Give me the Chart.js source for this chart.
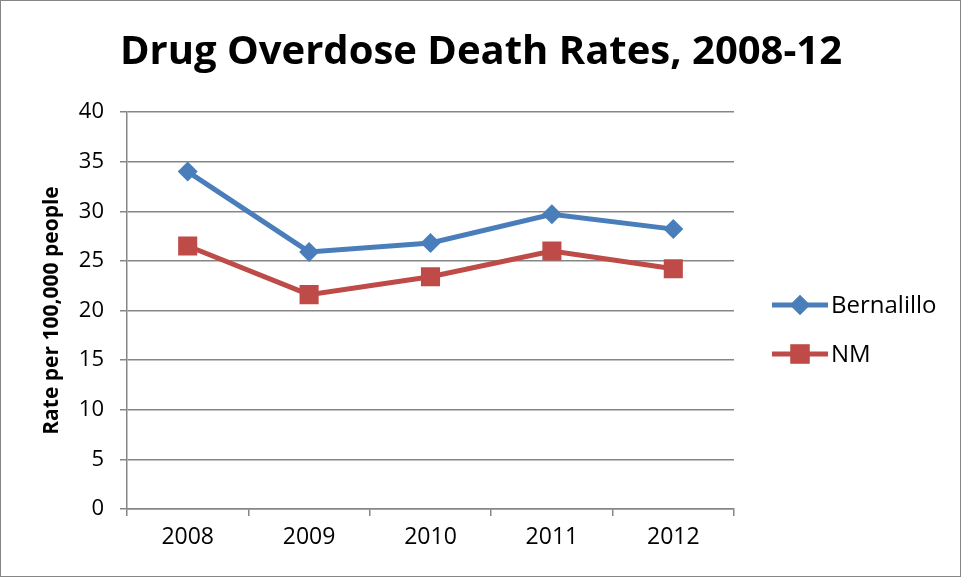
<!DOCTYPE html>
<html>
<head>
<meta charset="utf-8">
<script src="https://cdn.jsdelivr.net/npm/chart.js@4/dist/chart.umd.min.js"></script>
<style>
  html, body { margin: 0; padding: 0; background: #fff; }
  #wrap { width: 961px; height: 577px; box-sizing: border-box; border: 1px solid #868686; }
  canvas { display: block; }
</style>
</head>
<body>
<div id="wrap"><canvas id="c" width="959" height="575"></canvas></div>
<script>
// Chart content
const chartTitle = 'Drug Overdose Death Rates, 2008-12';
const yAxisTitle = 'Rate per 100,000 people';
const years = ['2008', '2009', '2010', '2011', '2012'];
const bernalillo = [34.0, 25.9, 26.8, 29.7, 28.2];
const nm = [26.5, 21.6, 23.4, 26.0, 24.2];
const yTicks = [0, 5, 10, 15, 20, 25, 30, 35, 40];

const FONT = "'Open Sans', 'DejaVu Sans', sans-serif";
const GRID = '#868686';

// Main title and right-hand legend (line through marker, as in office charts)
const decorations = {
  id: 'decorations',
  afterDraw(chart) {
    const ctx = chart.ctx;
    ctx.save();
    ctx.fillStyle = '#000';
    ctx.font = `bold 40px ${FONT}`;
    ctx.textAlign = 'center';
    ctx.textBaseline = 'middle';
    ctx.fillText(chartTitle, 480, 52);

    const lx = 771, ly = [304, 353];
    chart.data.datasets.forEach((ds, i) => {
      const y = ly[i];
      ctx.strokeStyle = ds.borderColor;
      ctx.lineWidth = 5;
      ctx.beginPath();
      ctx.moveTo(lx, y);
      ctx.lineTo(lx + 56, y);
      ctx.stroke();
      ctx.fillStyle = ds.pointBackgroundColor;
      Chart.helpers.drawPoint(ctx, {
        pointStyle: ds.pointStyle, rotation: 0, borderWidth: 0,
        radius: ds.pointRadius
      }, lx + 28, y);
      ctx.fill();
      ctx.fillStyle = '#000';
      ctx.font = `24px ${FONT}`;
      ctx.textAlign = 'left';
      ctx.fillText(ds.label, lx + 59, y + 1);
    });
    ctx.restore();
  }
};

new Chart(document.getElementById('c'), {
  type: 'line',
  data: {
    labels: years,
    datasets: [
      {
        label: 'Bernalillo',
        data: bernalillo,
        borderColor: '#4A7EBB',
        backgroundColor: '#4A7EBB',
        pointBackgroundColor: '#4A7EBB',
        pointBorderColor: '#4A7EBB',
        pointStyle: 'rectRot',
        pointRadius: 10,
        pointBorderWidth: 0,
        borderWidth: 5,
        tension: 0
      },
      {
        label: 'NM',
        data: nm,
        borderColor: '#BE4B48',
        backgroundColor: '#BE4B48',
        pointBackgroundColor: '#BE4B48',
        pointBorderColor: '#BE4B48',
        pointStyle: 'rect',
        pointRadius: 13.5,
        pointBorderWidth: 0,
        borderWidth: 5,
        tension: 0
      }
    ]
  },
  options: {
    responsive: false,
    animation: false,
    layout: { padding: { left: 0, top: 111, right: 226, bottom: 0 } },
    plugins: {
      legend: { display: false },
      title: { display: false },
      tooltip: { enabled: false }
    },
    scales: {
      x: {
        type: 'category',
        offset: true,
        grid: {
          offset: true,
          drawOnChartArea: false,
          drawTicks: true,
          tickLength: 7,
          color: GRID,
          lineWidth: 1.5
        },
        border: { color: GRID, width: 1.5 },
        ticks: {
          color: '#000',
          font: { family: FONT, size: 23 },
          padding: 8,
          maxRotation: 0
        },
        afterFit(scale) { scale.height = 67; }
      },
      y: {
        min: 0,
        max: 40,
        afterBuildTicks(scale) { scale.ticks = yTicks.map(v => ({ value: v })); },
        grid: {
          color: GRID,
          lineWidth: 1.5,
          drawTicks: true,
          tickLength: 7
        },
        border: { color: GRID, width: 1.5 },
        ticks: {
          color: '#000',
          font: { family: FONT, size: 22 },
          padding: 16
        },
        title: {
          display: true,
          text: yAxisTitle,
          color: '#000',
          font: { family: FONT, size: 21, weight: 'bold' },
          padding: { top: 38, bottom: 0 }
        },
        afterFit(scale) { scale.width = 126; }
      }
    }
  },
  plugins: [decorations]
});
</script>
</body>
</html>
